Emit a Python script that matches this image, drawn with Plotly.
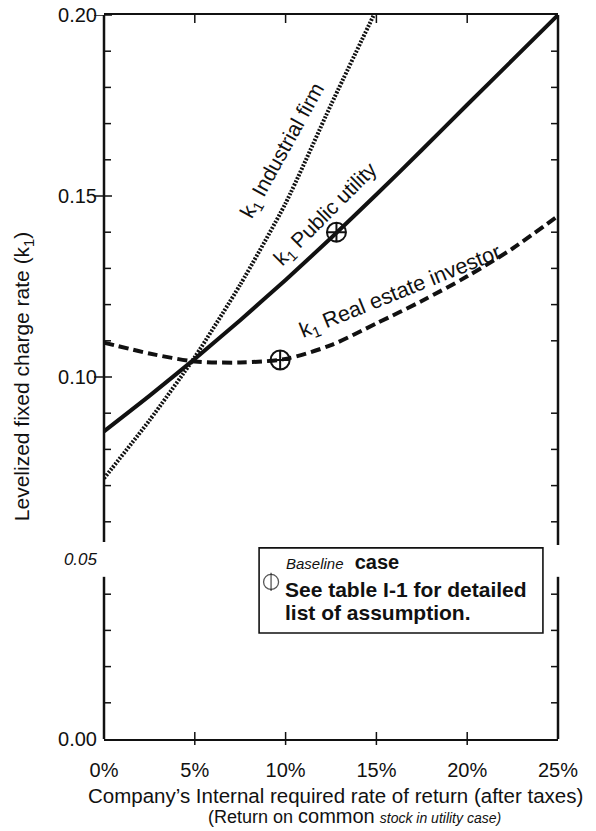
import plotly.graph_objects as go

# ---------------- data ----------------
rate = [0, 2.5, 5, 7.5, 10, 12.5, 15, 17.5, 20, 22.5, 25]
k_public_utility = [0.085, 0.0948, 0.1050, 0.1157, 0.1268, 0.1384, 0.1504, 0.1627, 0.1752, 0.1876, 0.200]
k_real_estate = [0.1095, 0.1065, 0.1043, 0.1040, 0.1050, 0.1088, 0.1148, 0.1210, 0.1278, 0.1355, 0.1445]

rate_industrial = [0, 2.5, 5, 7.5, 10, 12.5, 15]
k_industrial = [0.072, 0.088, 0.1055, 0.1255, 0.148, 0.1752, 0.2015]

baseline_rate = [12.8, 9.7]
baseline_k = [0.1400, 0.1047]

x_tick_vals = [0, 5, 10, 15, 20, 25]
x_tick_text = ["0%", "5%", "10%", "15%", "20%", "25%"]
y_tick_vals = [0.0, 0.05, 0.10, 0.15, 0.20]
y_tick_text = ["0.00", "<i><span style='font-size:17px'>0.05</span></i>", "0.10", "0.15", "0.20"]
y_minor_vals = [0.01, 0.02, 0.03, 0.04, 0.06, 0.07, 0.08, 0.09, 0.11, 0.12, 0.13,
                0.14, 0.16, 0.17, 0.18, 0.19]
y_major_cross = [0.10, 0.15, 0.20]
x_inner_ticks = [5, 10, 15, 20]

FONT = "Liberation Sans, Arial, Helvetica, sans-serif"
BLACK = "#111111"

fig = go.Figure()

fig.add_trace(go.Scatter(x=rate_industrial, y=k_industrial, mode="lines",
                         line=dict(color=BLACK, width=4, dash="2px,1.5px", shape="spline", smoothing=0.6),
                         hoverinfo="skip", showlegend=False))
fig.add_trace(go.Scatter(x=rate, y=k_public_utility, mode="lines",
                         line=dict(color=BLACK, width=4, shape="spline", smoothing=0.6),
                         hoverinfo="skip", showlegend=False))
fig.add_trace(go.Scatter(x=rate, y=k_real_estate, mode="lines",
                         line=dict(color=BLACK, width=4, dash="10px,5px", shape="spline", smoothing=0.8),
                         hoverinfo="skip", showlegend=False))
fig.add_trace(go.Scatter(x=baseline_rate, y=baseline_k, mode="markers",
                         marker=dict(symbol="circle-cross-open", size=19, color=BLACK,
                                     line=dict(width=2, color=BLACK)),
                         hoverinfo="skip", showlegend=False))
# symbol in the note box
fig.add_trace(go.Scatter(x=[9.2, 9.2], y=[0.0434, 0.0434], mode="markers",
                         marker=dict(symbol=["circle-open", "line-ns-open"], size=[15, 13],
                                     color=BLACK, line=dict(width=1.3, color=BLACK)),
                         hoverinfo="skip", showlegend=False))

shapes = []
axis_line = dict(color=BLACK, width=2.5)
# axis frame with a break around 0.05
shapes.append(dict(type="line", xref="paper", yref="y", x0=0, x1=0, y0=0.0544, y1=0.2, line=axis_line))
shapes.append(dict(type="line", xref="paper", yref="y", x0=0, x1=0, y0=0, y1=0.0448, line=axis_line))
shapes.append(dict(type="line", xref="paper", yref="y", x0=1, x1=1, y0=0.0536, y1=0.2, line=axis_line))
shapes.append(dict(type="line", xref="paper", yref="y", x0=1, x1=1, y0=0, y1=0.0448, line=axis_line))

tick_line = dict(color=BLACK, width=1.5)
for v in y_minor_vals:
    shapes.append(dict(type="line", xref="paper", yref="y", xsizemode="pixel", xanchor=0,
                       x0=0, x1=7, y0=v, y1=v, line=tick_line))
    shapes.append(dict(type="line", xref="paper", yref="y", xsizemode="pixel", xanchor=1,
                       x0=0, x1=-7, y0=v, y1=v, line=tick_line))
for v in y_major_cross:
    shapes.append(dict(type="line", xref="paper", yref="y", xsizemode="pixel", xanchor=0,
                       x0=-10, x1=8, y0=v, y1=v, line=tick_line))
for v in x_inner_ticks:
    shapes.append(dict(type="line", xref="x", yref="paper", ysizemode="pixel", yanchor=0,
                       x0=v, x1=v, y0=-6, y1=7, line=tick_line))
    shapes.append(dict(type="line", xref="x", yref="paper", ysizemode="pixel", yanchor=1,
                       x0=v, x1=v, y0=0, y1=-8, line=tick_line))

# note box
shapes.append(dict(type="rect", xref="x", yref="y", x0=8.54, x1=24.17, y0=0.0293, y1=0.0528,
                   line=dict(color=BLACK, width=1.6), fillcolor="rgba(0,0,0,0)"))

annotations = [
    dict(text="k<sub>1</sub> Industrial firm", x=9.86, y=0.1624, xref="x", yref="y",
         showarrow=False, textangle=-61, font=dict(family=FONT, size=21, color=BLACK)),
    dict(text="k<sub>1</sub> Public utility", x=12.25, y=0.1450, xref="x", yref="y",
         showarrow=False, textangle=-45, font=dict(family=FONT, size=21, color=BLACK)),
    dict(text="k<sub>1</sub> Real estate investor", x=16.35, y=0.1234, xref="x", yref="y",
         showarrow=False, textangle=-22, font=dict(family=FONT, size=21.5, color=BLACK)),
    dict(text="<i><span style='font-size:15px'>Baseline</span></i>  <b>case</b>",
         x=9.91, y=0.0488, xref="x", yref="y", xanchor="left", yanchor="middle",
         showarrow=False, font=dict(family=FONT, size=20, color=BLACK)),
    dict(text="<b>See table I-1 for detailed</b>", x=9.86, y=0.0413, xref="x", yref="y",
         xanchor="left", yanchor="middle", showarrow=False,
         font=dict(family=FONT, size=21, color=BLACK)),
    dict(text="<b>list of assumption.</b>", x=9.86, y=0.0350, xref="x", yref="y",
         xanchor="left", yanchor="middle", showarrow=False,
         font=dict(family=FONT, size=21, color=BLACK)),
    dict(text="Levelized fixed charge rate (k<sub>1</sub>)", x=-0.178, y=0.5,
         xref="paper", yref="paper", textangle=-90, showarrow=False,
         xanchor="center", yanchor="middle",
         font=dict(family=FONT, size=21, color=BLACK)),
    dict(text="Company\u2019s Internal required rate of return (after taxes)", x=0.51, y=-0.0787,
         xref="paper", yref="paper", showarrow=False, xanchor="center", yanchor="middle",
         font=dict(family=FONT, size=20.5, color=BLACK)),
    dict(text="(Return on <span style='font-size:20px'>common</span> "
              "<i><span style='font-size:14px'>stock in utility case)</span></i>",
         x=0.551, y=-0.1064, xref="paper", yref="paper", showarrow=False,
         xanchor="center", yanchor="middle",
         font=dict(family=FONT, size=18, color=BLACK)),
]

fig.update_layout(
    width=596, height=831,
    margin=dict(l=104, r=38, t=15, b=92, autoexpand=False),
    paper_bgcolor="white", plot_bgcolor="white",
    showlegend=False,
    shapes=shapes, annotations=annotations,
    font=dict(family=FONT, color=BLACK),
    xaxis=dict(range=[0, 25], showgrid=False, zeroline=False, automargin=False,
               showline=True, mirror=True, linecolor=BLACK, linewidth=2,
               tickvals=x_tick_vals, ticktext=x_tick_text, ticks="",
               ticklabelstandoff=12, ticklabeloverflow="allow",
               tickfont=dict(family=FONT, size=20, color=BLACK)),
    yaxis=dict(range=[0, 0.2], showgrid=False, zeroline=False, showline=False, automargin=False,
               tickvals=y_tick_vals, ticktext=y_tick_text, ticks="",
               ticklabelstandoff=6, ticklabeloverflow="allow",
               tickfont=dict(family=FONT, size=20, color=BLACK)),
)

fig.write_html("out.html", config={"displayModeBar": False},
               post_script="document.body.style.margin='0px';")
